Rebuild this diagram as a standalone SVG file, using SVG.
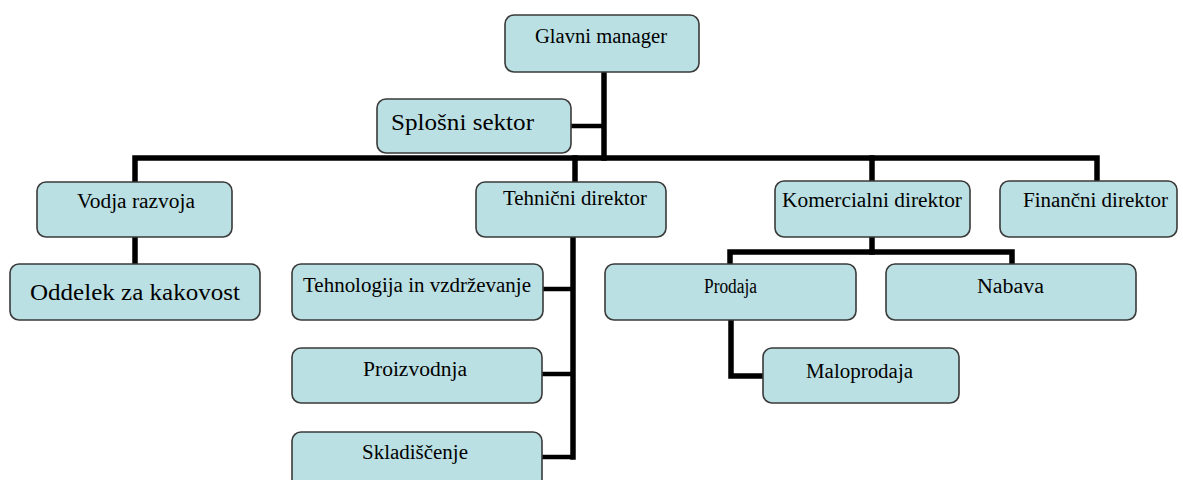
<svg xmlns="http://www.w3.org/2000/svg" width="1183" height="480" viewBox="0 0 1183 480">
<style>
.box{fill:#bbe0e3;stroke:#3a3a3a;stroke-width:1.6}
.t{font-family:"Liberation Serif","Times New Roman",serif;font-size:20px;fill:#000}
.tl{font-size:23px}
.c{fill:none;stroke:#000;stroke-width:5.5;stroke-linecap:square;stroke-linejoin:miter}
.cs{fill:none;stroke:#000;stroke-width:4.5}
</style>
<rect width="1183" height="480" fill="#fff"/>
<g id="connectors">
<path class="c" d="M604 72V158"/>
<path class="cs" d="M571 126H604"/>
<path class="c" d="M135 182V158H1097V182"/>
<path class="c" d="M575 158V182"/>
<path class="c" d="M872 158V182"/>
<path class="c" d="M135 237V264"/>
<path class="c" d="M573 237V457"/>
<path class="cs" d="M543 289H573"/>
<path class="cs" d="M542 374H573"/>
<path class="cs" d="M542 457H573"/>
<path class="c" d="M872 237V252"/>
<path class="c" d="M730 264V252H1012V264"/>
<path class="c" d="M731 320V376H763"/>
</g>
<g id="glavni"><rect class="box" x="505" y="15" width="194" height="57" rx="9"/><text class="t" x="535" y="43" textLength="132" lengthAdjust="spacingAndGlyphs">Glavni manager</text></g>
<g id="splosni"><rect class="box" x="377" y="99" width="194" height="54" rx="9"/><text class="t tl" x="391" y="130" textLength="143" lengthAdjust="spacingAndGlyphs">Splošni sektor</text></g>
<g id="vodja"><rect class="box" x="37" y="182" width="195" height="55" rx="9"/><text class="t" x="77" y="208" textLength="118" lengthAdjust="spacingAndGlyphs">Vodja razvoja</text></g>
<g id="oddelek"><rect class="box" x="10" y="264" width="250" height="56" rx="9"/><text class="t tl" x="30" y="300" textLength="210" lengthAdjust="spacingAndGlyphs">Oddelek za kakovost</text></g>
<g id="tehnicni"><rect class="box" x="476" y="182" width="190" height="55" rx="9"/><text class="t" x="503" y="205" textLength="144" lengthAdjust="spacingAndGlyphs">Tehnični direktor</text></g>
<g id="komercialni"><rect class="box" x="775" y="181" width="195" height="56" rx="9"/><text class="t" x="782" y="207" textLength="180" lengthAdjust="spacingAndGlyphs">Komercialni direktor</text></g>
<g id="financni"><rect class="box" x="1000" y="181" width="177" height="56" rx="9"/><text class="t" x="1023" y="207" textLength="145" lengthAdjust="spacingAndGlyphs">Finančni direktor</text></g>
<g id="tehnologija"><rect class="box" x="292" y="264" width="251" height="56" rx="9"/><text class="t" x="303" y="292" textLength="228" lengthAdjust="spacingAndGlyphs">Tehnologija in vzdrževanje</text></g>
<g id="proizvodnja"><rect class="box" x="292" y="348" width="250" height="55" rx="9"/><text class="t" x="363" y="376" textLength="104" lengthAdjust="spacingAndGlyphs">Proizvodnja</text></g>
<g id="skladiscenje"><rect class="box" x="292" y="432" width="250" height="56" rx="9"/><text class="t" x="362" y="459" textLength="106" lengthAdjust="spacingAndGlyphs">Skladiščenje</text></g>
<g id="prodaja"><rect class="box" x="605" y="264" width="251" height="56" rx="9"/><text class="t" x="704" y="293" textLength="53" lengthAdjust="spacingAndGlyphs">Prodaja</text></g>
<g id="nabava"><rect class="box" x="886" y="264" width="250" height="56" rx="9"/><text class="t" x="977" y="293" textLength="67" lengthAdjust="spacingAndGlyphs">Nabava</text></g>
<g id="maloprodaja"><rect class="box" x="763" y="348" width="196" height="55" rx="9"/><text class="t" x="806" y="378" textLength="107" lengthAdjust="spacingAndGlyphs">Maloprodaja</text></g>
</svg>
